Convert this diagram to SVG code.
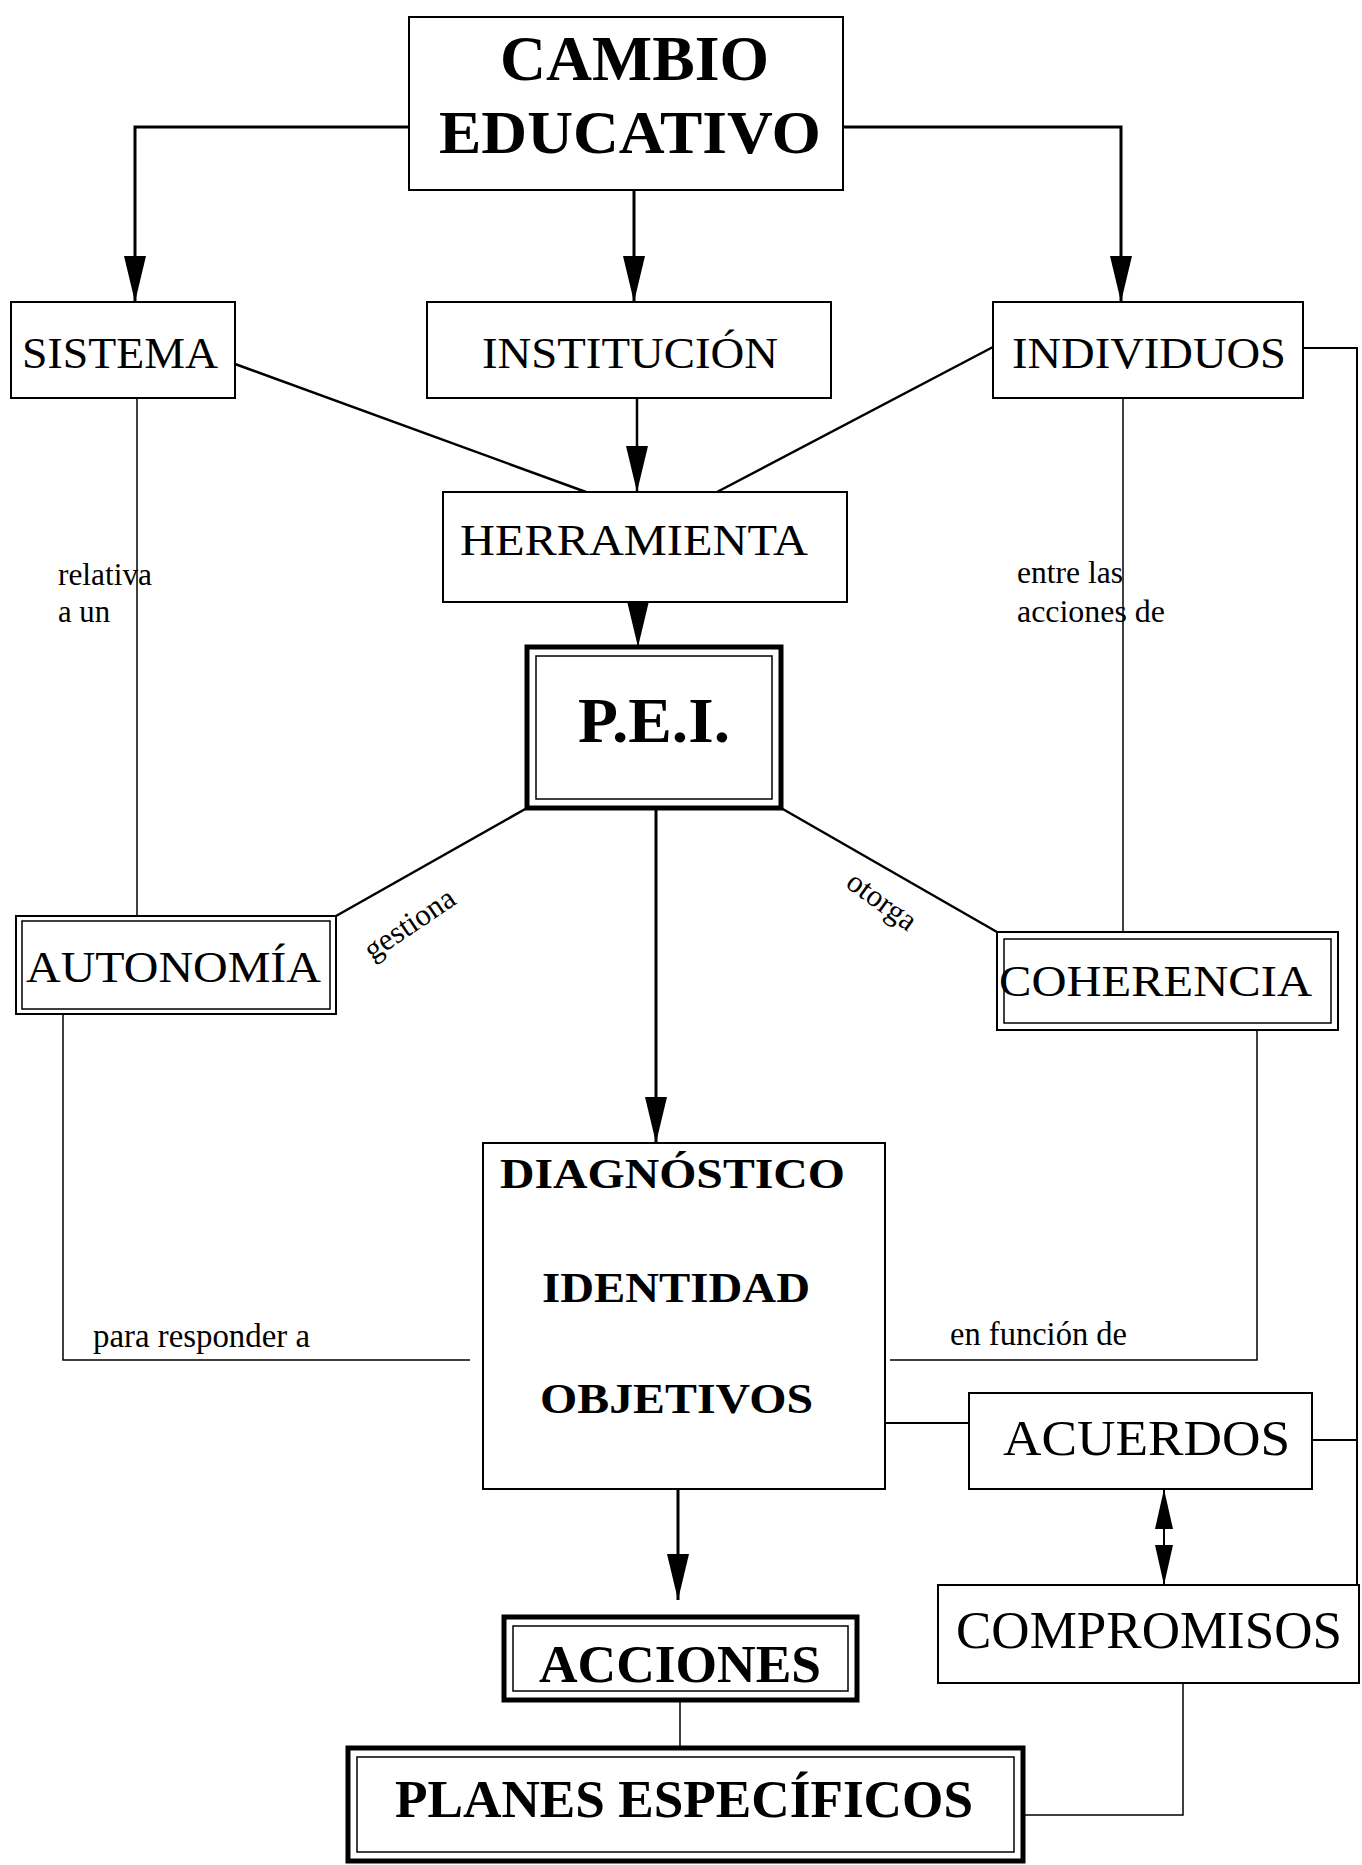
<svg xmlns="http://www.w3.org/2000/svg" width="1362" height="1865" viewBox="0 0 1362 1865">
<defs>
<style>
.box{fill:#fff;stroke:#000;stroke-width:2}
.thick{fill:none;stroke:#000;stroke-width:5}
.thin{fill:none;stroke:#000;stroke-width:1.5}
.t{font-family:"Liberation Serif","Times New Roman",serif;fill:#000}
.b{font-weight:bold}
.c{fill:none;stroke:#000}
.w3{stroke-width:3}
.w25{stroke-width:2.5}
.w2{stroke-width:2}
.w15{stroke-width:1.5}
</style>
<marker id="ah" viewBox="0 0 46 22" markerWidth="46" markerHeight="22" refX="46" refY="11" orient="auto" markerUnits="userSpaceOnUse">
<path d="M0,0 L46,11 L0,22 Z" fill="#000"/>
</marker>
<marker id="ah2" viewBox="0 0 40 18" markerWidth="40" markerHeight="18" refX="40" refY="9" orient="auto-start-reverse" markerUnits="userSpaceOnUse">
<path d="M0,0 L40,9 L0,18 Z" fill="#000"/>
</marker>
</defs>
<rect width="1362" height="1865" fill="#fff"/>

<g id="connectors">
<polyline class="c w3" points="409,127 135,127 135,302" marker-end="url(#ah)"/>
<line class="c w3" x1="634" y1="190" x2="634" y2="302" marker-end="url(#ah)"/>
<polyline class="c w3" points="843,127 1121,127 1121,302" marker-end="url(#ah)"/>
<line class="c w25" x1="637" y1="398" x2="637" y2="492" marker-end="url(#ah)"/>
<line class="c w25" x1="235" y1="364" x2="586" y2="492"/>
<line class="c w25" x1="993" y1="347" x2="717" y2="492"/>
<line class="c w15" x1="638" y1="602" x2="638" y2="647" marker-end="url(#ah)"/>
<line class="c w15" x1="137" y1="398" x2="137" y2="916"/>
<line class="c w15" x1="1123" y1="398" x2="1123" y2="932"/>
<polyline class="c w2" points="1303,348 1357,348 1357,1585"/>
<line class="c w2" x1="1312" y1="1440" x2="1357" y2="1440"/>
<line class="c w25" x1="527" y1="808" x2="336" y2="916"/>
<line class="c w25" x1="781" y1="808" x2="997" y2="932"/>
<line class="c w3" x1="656" y1="808" x2="656" y2="1143" marker-end="url(#ah)"/>
<polyline class="c w15" points="63,1014 63,1360 470,1360"/>
<polyline class="c w15" points="1257,1030 1257,1360 890,1360"/>
<line class="c w2" x1="885" y1="1423" x2="969" y2="1423"/>
<line class="c w3" x1="678" y1="1489" x2="678" y2="1600" marker-end="url(#ah)"/>
<line class="c w2" x1="1164" y1="1489" x2="1164" y2="1585" marker-start="url(#ah2)" marker-end="url(#ah2)"/>
<line class="c w15" x1="680" y1="1700" x2="680" y2="1748"/>
<polyline class="c w15" points="1183,1683 1183,1815 1023,1815"/>
</g>

<g id="labels">
<text class="t" x="58" y="585" font-size="31" textLength="94" lengthAdjust="spacingAndGlyphs">relativa</text>
<text class="t" x="58" y="622" font-size="31" textLength="52" lengthAdjust="spacingAndGlyphs">a un</text>
<text class="t" x="1017" y="583" font-size="31" textLength="106" lengthAdjust="spacingAndGlyphs">entre las</text>
<text class="t" x="1017" y="622" font-size="31" textLength="148" lengthAdjust="spacingAndGlyphs">acciones de</text>
<text class="t" x="415" y="932" font-size="31" text-anchor="middle" transform="rotate(-34 415 932)">gestiona</text>
<text class="t" x="876" y="909" font-size="31" text-anchor="middle" transform="rotate(36 876 909)">otorga</text>
<text class="t" x="93" y="1347" font-size="33" textLength="217" lengthAdjust="spacingAndGlyphs">para responder a</text>
<text class="t" x="950" y="1345" font-size="33" textLength="177" lengthAdjust="spacingAndGlyphs">en función de</text>
</g>

<g id="cambio">
<rect class="box" x="409" y="17" width="434" height="173" stroke-width="2.5"/>
<text class="t b" x="500" y="80" font-size="64" textLength="269" lengthAdjust="spacingAndGlyphs">CAMBIO</text>
<text class="t b" x="439" y="153" font-size="62" textLength="382" lengthAdjust="spacingAndGlyphs">EDUCATIVO</text>
</g>

<g id="sistema">
<rect class="box" x="11" y="302" width="224" height="96"/>
<text class="t" x="22" y="368" font-size="45" textLength="196" lengthAdjust="spacingAndGlyphs">SISTEMA</text>
</g>

<g id="institucion">
<rect class="box" x="427" y="302" width="404" height="96"/>
<text class="t" x="482" y="368" font-size="45" textLength="296" lengthAdjust="spacingAndGlyphs">INSTITUCIÓN</text>
</g>

<g id="individuos">
<rect class="box" x="993" y="302" width="310" height="96"/>
<text class="t" x="1012" y="368" font-size="45" textLength="274" lengthAdjust="spacingAndGlyphs">INDIVIDUOS</text>
</g>

<g id="herramienta">
<rect class="box" x="443" y="492" width="404" height="110"/>
<text class="t" x="460" y="555" font-size="45" textLength="348" lengthAdjust="spacingAndGlyphs">HERRAMIENTA</text>
</g>

<g id="pei">
<rect class="thick" x="527" y="647" width="254" height="161" fill="#fff"/>
<rect class="thin" x="536" y="656" width="236" height="143"/>
<text class="t b" x="578" y="742" font-size="63" textLength="152" lengthAdjust="spacingAndGlyphs">P.E.I.</text>
</g>

<g id="autonomia">
<rect class="box" x="16" y="916" width="320" height="98" stroke-width="2.5"/>
<rect class="thin" x="22" y="921" width="308" height="88"/>
<text class="t" x="26" y="982" font-size="45" textLength="295" lengthAdjust="spacingAndGlyphs">AUTONOMÍA</text>
</g>

<g id="coherencia">
<rect class="box" x="997" y="932" width="341" height="98" stroke-width="2.5"/>
<rect class="thin" x="1004" y="939" width="327" height="84"/>
<text class="t" x="999" y="996" font-size="45" textLength="313" lengthAdjust="spacingAndGlyphs">COHERENCIA</text>
</g>

<g id="diagnostico">
<rect class="box" x="483" y="1143" width="402" height="346"/>
<text class="t b" x="500" y="1188" font-size="42" textLength="345" lengthAdjust="spacingAndGlyphs">DIAGNÓSTICO</text>
<text class="t b" x="542" y="1302" font-size="43" textLength="268" lengthAdjust="spacingAndGlyphs">IDENTIDAD</text>
<text class="t b" x="540" y="1413" font-size="43" textLength="273" lengthAdjust="spacingAndGlyphs">OBJETIVOS</text>
</g>

<g id="acuerdos">
<rect class="box" x="969" y="1393" width="343" height="96"/>
<text class="t" x="1003" y="1455" font-size="50" textLength="287" lengthAdjust="spacingAndGlyphs">ACUERDOS</text>
</g>

<g id="compromisos">
<rect class="box" x="938" y="1585" width="421" height="98"/>
<text class="t" x="956" y="1648" font-size="52" textLength="386" lengthAdjust="spacingAndGlyphs">COMPROMISOS</text>
</g>

<g id="acciones">
<rect class="thick" x="504" y="1617" width="353" height="83" fill="#fff"/>
<rect class="thin" x="513" y="1626" width="335" height="65"/>
<text class="t b" x="539" y="1682" font-size="52" textLength="282" lengthAdjust="spacingAndGlyphs">ACCIONES</text>
</g>

<g id="planes">
<rect class="thick" x="348" y="1748" width="675" height="113" fill="#fff"/>
<rect class="thin" x="357" y="1757" width="657" height="95"/>
<text class="t b" x="395" y="1817" font-size="53" textLength="578" lengthAdjust="spacingAndGlyphs">PLANES ESPECÍFICOS</text>
</g>
</svg>
